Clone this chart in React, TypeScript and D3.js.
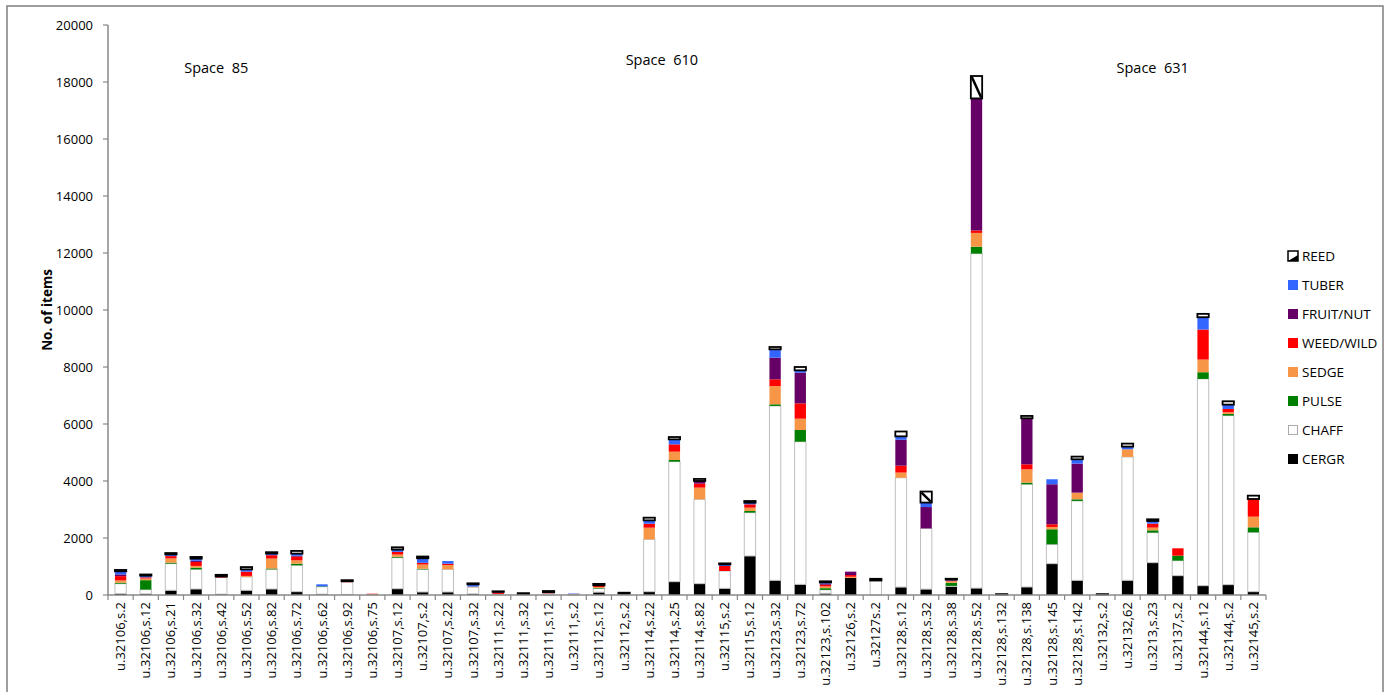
import React from "react";
import * as d3 from "d3";

const categories = [
  "u.32106,s.2", "u.32106,s.12", "u.32106,s.21", "u.32106,s.32", "u.32106,s.42",
  "u.32106,s.52", "u.32106,s.82", "u.32106,s.72", "u.32106,s.62", "u.32106,s.92",
  "u.32106,s.75", "u.32107,s.12", "u.32107,s.2", "u.32107,s.22", "u.32107,s.32",
  "u.32111,s.22", "u.32111,s.32", "u.32111,s.12", "u.32111,s.2", "u.32112,s.12",
  "u.32112,s.2", "u.32114,s.22", "u.32114,s.25", "u.32114,s.82", "u.32115,s.2",
  "u.32115,s.12", "u.32123,s.32", "u.32123,s.72", "u.32123,s.102", "u.32126,s.2",
  "u.32127s.2", "u.32128,s.12", "u.32128,s.32", "u.32128,s.38", "u.32128,s.52",
  "u.32128,s.132", "u.32128,s.138", "u.32128,s.145", "u.32128,s.142", "u.32132,s.2",
  "u.32132,62", "u.3213,s.23", "u.32137,s.2", "u.32144,s.12", "u.32144,s.2",
  "u.32145,s.2",
];

const CERGR = [47, 40, 165, 210, 30, 165, 210, 117, 30, 20, 0, 220, 105, 105, 40, 20, 0, 0, 0, 100, 30, 117, 468, 398, 234, 1369, 515, 374, 60, 600, 0, 278, 206, 300, 242, 0, 281, 1100, 515, 0, 515, 1135, 679, 328, 363, 117];
const CHAFF = [350, 150, 935, 690, 585, 470, 690, 925, 260, 430, 10, 1090, 795, 795, 235, 20, 30, 60, 20, 130, 20, 1836, 4211, 2960, 608, 1521, 6118, 5006, 120, 0, 508, 3836, 2130, 20, 11737, 20, 3604, 679, 2785, 20, 4329, 1053, 527, 7254, 5932, 2083];
const PULSE = [35, 330, 35, 60, 0, 0, 30, 58, 15, 0, 0, 30, 20, 0, 0, 0, 0, 0, 0, 20, 0, 0, 58, 0, 0, 58, 58, 409, 60, 0, 0, 0, 0, 110, 242, 0, 58, 527, 58, 0, 0, 82, 175, 234, 58, 175];
const SEDGE = [80, 60, 150, 60, 0, 35, 350, 117, 0, 0, 15, 80, 150, 150, 20, 0, 0, 0, 20, 30, 0, 409, 292, 410, 0, 117, 643, 398, 60, 40, 0, 182, 0, 50, 484, 0, 468, 82, 234, 0, 269, 94, 0, 445, 58, 374];
const WEED = [150, 40, 80, 140, 35, 150, 117, 130, 0, 35, 20, 94, 60, 47, 0, 40, 0, 30, 0, 60, 0, 140, 257, 140, 175, 117, 234, 538, 60, 60, 0, 242, 0, 30, 85, 0, 175, 94, 0, 0, 0, 140, 257, 1053, 117, 620];
const FRUIT = [60, 0, 0, 40, 0, 0, 0, 30, 0, 0, 0, 0, 0, 0, 0, 30, 0, 10, 0, 0, 0, 0, 0, 94, 0, 0, 760, 1076, 40, 120, 0, 908, 750, 0, 4634, 0, 1615, 1404, 1018, 0, 0, 0, 0, 0, 0, 0];
const TUBER = [110, 60, 60, 77, 0, 80, 58, 75, 70, 0, 0, 80, 160, 94, 80, 0, 0, 0, 15, 0, 0, 117, 175, 0, 58, 58, 292, 82, 40, 0, 0, 121, 157, 30, 0, 0, 0, 175, 152, 0, 94, 94, 0, 433, 152, 0];
const REED = [47, 40, 47, 58, 58, 80, 47, 94, 0, 35, 0, 80, 60, 0, 35, 20, 35, 40, 0, 50, 30, 94, 82, 70, 35, 58, 82, 117, 40, 0, 60, 170, 387, 30, 786, 10, 82, 0, 94, 10, 105, 58, 0, 117, 117, 117];

const seriesKeys = ["CERGR", "CHAFF", "PULSE", "SEDGE", "WEED/WILD", "FRUIT/NUT", "TUBER", "REED"];
const seriesValues = [CERGR, CHAFF, PULSE, SEDGE, WEED, FRUIT, TUBER, REED];
const yTicks = [0, 2000, 4000, 6000, 8000, 10000, 12000, 14000, 16000, 18000, 20000];
// label text, category it sits over, offset in category steps
const spaceLabels = [
  { text: "Space  85", at: "u.32106,s.42", off: -0.2, top: false },
  { text: "Space  610", at: "u.32114,s.22", off: 0.5, top: true },
  { text: "Space  631", at: "u.3213,s.23", off: 0, top: false },
];

const colors: Record<string, string> = {
  CERGR: "#000000",
  CHAFF: "#ffffff",
  PULSE: "#008000",
  SEDGE: "#f79646",
  "WEED/WILD": "#ff0000",
  "FRUIT/NUT": "#660066",
  TUBER: "#3366ff",
  REED: "#ffffff",
};

const FONT = "'Open Sans', sans-serif";

export default function App() {
  const W = 1393, H = 692;
  const left = 108, right = 1266, top = 25, bottom = 595;

  const rows = categories.map((c, i) => {
    const r: any = { cat: c };
    seriesKeys.forEach((k, j) => (r[k] = seriesValues[j][i]));
    return r;
  });
  const stacked = d3.stack<any>().keys(seriesKeys)(rows);

  const x = d3.scaleBand<string>().domain(categories).range([left, right]).paddingInner(0.55).paddingOuter(0.275);
  const y = d3.scaleLinear().domain([0, 20000]).range([bottom, top]);
  const step = x.step();

  const legendItems = [...seriesKeys].reverse();

  return (
    <svg width={W} height={H} style={{ position: "absolute", left: 0, top: 0, background: "#fff" }}>
      <rect x={0} y={0} width={W} height={H} fill="#fff" />
      <rect x={7} y={6} width={1376} height={720} fill="none" stroke="#7f7f7f" strokeWidth={1.5} />

      {/* y axis */}
      <line x1={left} x2={left} y1={top} y2={bottom} stroke="#888" strokeWidth={1.5} />
      {yTicks.map((t) => (
        <g key={t}>
          <line x1={left - 5} x2={left} y1={y(t)} y2={y(t)} stroke="#888" strokeWidth={1.2} />
          <text x={93} y={y(t)} dy="0.35em" textAnchor="end" fontFamily={FONT} fontSize={13} fill="#000">
            {t}
          </text>
        </g>
      ))}
      <text
        transform={`translate(52,310) rotate(-90)`}
        textAnchor="middle"
        fontFamily={FONT}
        fontSize={13.5}
        fontWeight="bold"
        fill="#000"
      >
        No. of items
      </text>

      {/* bars */}
      {stacked.map((s) => (
        <g key={s.key}>
          {s.map((d, i) => {
            const v = d[1] - d[0];
            if (v <= 0) return null;
            const bx = x(categories[i])!;
            const bw = x.bandwidth();
            const y0 = y(d[0]);
            const y1 = y(d[1]);
            const h = y0 - y1;
            if (s.key === "REED") {
              return (
                <g key={i}>
                  <rect x={bx} y={y1} width={bw} height={h} fill="#fff" stroke="#000" strokeWidth={1.8} />
                  {h > 6 && (
                    <line x1={bx + 1} y1={y1 + 1} x2={bx + bw - 1} y2={y0 - 1} stroke="#000" strokeWidth={2.5} />
                  )}
                </g>
              );
            }
            if (s.key === "CHAFF") {
              return <rect key={i} x={bx} y={y1} width={bw} height={h} fill="#fff" stroke="#bfbfbf" strokeWidth={1} />;
            }
            return <rect key={i} x={bx} y={y1} width={bw} height={h} fill={colors[s.key]} />;
          })}
        </g>
      ))}

      {/* x axis */}
      <line x1={left} x2={right} y1={bottom} y2={bottom} stroke="#888" strokeWidth={1.5} />
      {d3.range(categories.length + 1).map((i) => (
        <line key={i} x1={left + i * step} x2={left + i * step} y1={bottom} y2={bottom + 5} stroke="#888" strokeWidth={1.2} />
      ))}
      {categories.map((c) => (
        <text
          key={c}
          transform={`translate(${x(c)! + x.bandwidth() / 2},${bottom + 7}) rotate(-90)`}
          textAnchor="end"
          dy="0.35em"
          fontFamily={FONT}
          fontSize={13}
          fill="#000"
        >
          {c}
        </text>
      ))}

      {/* space labels */}
      {spaceLabels.map((s) => (
        <text
          key={s.text}
          x={x(s.at)! + x.bandwidth() / 2 + s.off * step}
          y={s.top ? 65 : 73}
          textAnchor="middle"
          fontFamily={FONT}
          fontSize={14.5}
          fill="#000"
          style={{ whiteSpace: "pre" }}
        >
          {s.text}
        </text>
      ))}

      {/* legend */}
      {legendItems.map((k, i) => {
        const ly = 256 + i * 29;
        return (
          <g key={k}>
            {k === "REED" ? (
              <g>
                <rect x={1288} y={ly - 5} width={10} height={10} fill="#fff" stroke="#000" strokeWidth={1.5} />
                <path d={`M1288,${ly + 5} L1298,${ly + 5} L1298,${ly - 1} Z`} fill="#000" />
              </g>
            ) : k === "CHAFF" ? (
              <rect x={1288.5} y={ly - 4.5} width={9} height={9} fill="#fff" stroke="#aaa" strokeWidth={1} />
            ) : (
              <rect x={1288} y={ly - 5} width={10} height={10} fill={colors[k]} />
            )}
            <text x={1302} y={ly} dy="0.35em" fontFamily={FONT} fontSize={13.5} fill="#000">
              {k}
            </text>
          </g>
        );
      })}
    </svg>
  );
}
